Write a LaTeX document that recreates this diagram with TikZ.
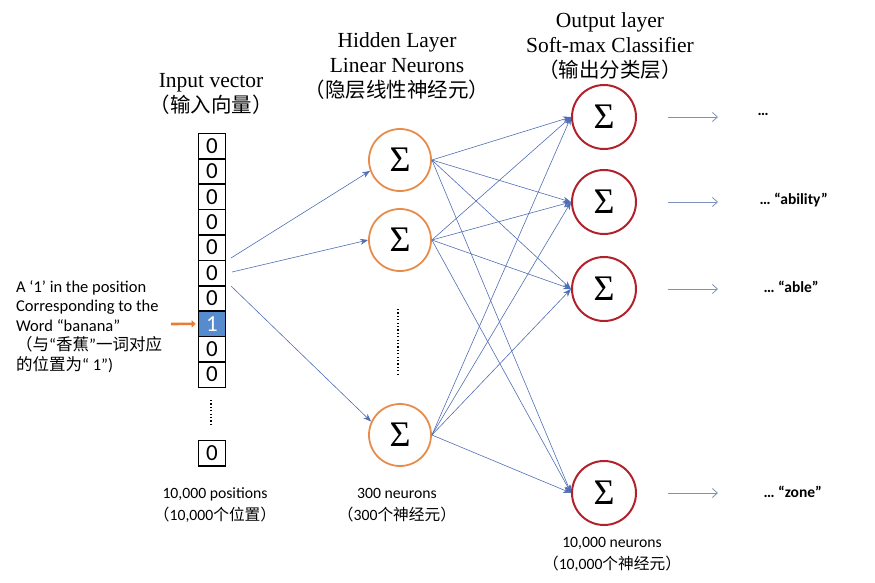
\documentclass[tikz,border=0pt]{standalone}
\usepackage{fontspec}
\setmainfont{Liberation Serif}
\newfontfamily\sansf{Carlito}
\newfontfamily\cjk{Noto Sans CJK SC}
\usetikzlibrary{arrows.meta}
\definecolor{hidorange}{RGB}{232,140,75}
\definecolor{outred}{RGB}{178,34,44}
\definecolor{connblue}{RGB}{80,110,180}
\definecolor{cellblue}{RGB}{86,140,205}
\definecolor{outarrow}{RGB}{125,145,185}
\definecolor{arrorange}{RGB}{235,125,50}
\begin{document}
\begin{tikzpicture}[x=1pt,y=-1pt,
  cell/.style={draw=black,line width=1.6pt,minimum width=27pt,minimum height=25.4pt,inner sep=0pt,font=\sansf\fontsize{23}{23}\selectfont},
  hidden/.style={circle,draw=hidorange,line width=1.8pt,minimum size=62pt,inner sep=0pt,font=\fontsize{36}{36}\selectfont},
  outn/.style={circle,draw=outred,line width=2pt,minimum size=64pt,inner sep=0pt,font=\fontsize{36}{36}\selectfont},
  conn/.style={draw=connblue,line width=0.6pt,-{Stealth[length=8pt,width=6pt]}},
  outarr/.style={draw=outarrow,line width=0.8pt,-{Straight Barb[length=5pt,width=9pt]}},
  title/.style={align=center,font=\fontsize{21.5}{25}\selectfont},
  cjkt/.style={},
  word/.style={anchor=west,font=\sansf\bfseries\fontsize{15.5}{16}\selectfont},
  note/.style={align=center,font=\sansf\fontsize{15.7}{22}\selectfont},
  dotsline/.style={line width=1.6pt,dash pattern=on 1.2pt off 2.2pt}
]
\useasboundingbox (0,0) rectangle (875,582);

% titles
\node[title] (tin) at (211,94) {Input vector\\{\cjk\fontsize{20.5}{25}\selectfont （输入向量）}};
\node[title] (thid) at (397,66) {Hidden Layer\\Linear Neurons\\{\cjk\fontsize{20.5}{25}\selectfont （隐层线性神经元）}};
\node[title] (tout) at (610,46) {Output layer\\Soft-max Classifier\\{\cjk\fontsize{20.5}{25}\selectfont （输出分类层）}};

% input vector cells
\foreach \i in {1,...,7,9,10} {
  \node[cell] (c\i) at (212,{146+(\i-1)*25.4}) {0};
}
\node[cell,fill=cellblue,text=white] (c8) at (212,{146+7*25.4}) {1};
\node[cell] (c11) at (212,453) {0};
\coordinate (id1) at (211,400);
\coordinate (id2) at (211,426);
\draw[dotsline] (id1) -- (id2);

% left note
\node[anchor=north west,align=left,font=\sansf\fontsize{16.5}{19.5}\selectfont,inner sep=0pt] (leftnote) at (16,280)
{A ‘1’ in the position\\Corresponding to the\\Word “banana”\\{\cjk （与}“{\cjk 香蕉}”{\cjk 一词对应}\\{\cjk 的位置为}“ 1”)};
\coordinate (oa) at (171,324);
\draw[draw=arrorange,line width=2.6pt,-{Triangle[length=4pt,width=7pt]}] (oa) -- ([xshift=-2pt]c8.west);

% hidden nodes
\node[hidden] (h1) at (400,160) {Σ};
\node[hidden] (h2) at (400,240) {Σ};
\node[hidden] (h3) at (400,435) {Σ};
\coordinate (hd1) at (398,309);
\coordinate (hd2) at (398,376);
\draw[dotsline] (hd1) -- (hd2);

% output nodes
\node[outn] (o1) at (604,117) {Σ};
\node[outn] (o2) at (604,202) {Σ};
\node[outn] (o3) at (604,289) {Σ};
\node[outn] (o4) at (604,493) {Σ};

% input -> hidden
\coordinate (s1) at (231,258);
\coordinate (s2) at (232,272);
\coordinate (s3) at (231,286);
\draw[conn] (s1) -- (h1.200);
\draw[conn] (s2) -- (h2.west);
\draw[conn] (s3) -- (h3.155);

% hidden -> output
\foreach \h in {h1,h2,h3} {
  \foreach \o in {o1,o2,o3,o4} {
    \draw[conn] (\h.east) -- (\o.west);
  }
}

% output arrows and words
\foreach \o/\y in {o1/117,o2/202,o3/289,o4/493} {
  \coordinate (\o s) at (668,\y);
  \coordinate (\o e) at (718,\y);
  \draw[outarr] (\o s) -- (\o e);
}
\node[word] (w1) at (754,114) {…};
\node[word] (w2) at (756,200) {… “ability”};
\node[word] (w3) at (760,287) {… “able”};
\node[word] (w4) at (760,492) {… “zone”};

% bottom labels
\node[note] (bin) at (215,505) {10,000 positions\\{\cjk （}10,000{\cjk 个位置）}};
\node[note] (bhid) at (397,505) {300 neurons\\{\cjk （}300{\cjk 个神经元）}};
\node[note] (bout) at (612,554) {10,000 neurons\\{\cjk （}10,000{\cjk 个神经元）}};
\end{tikzpicture}
\end{document}
